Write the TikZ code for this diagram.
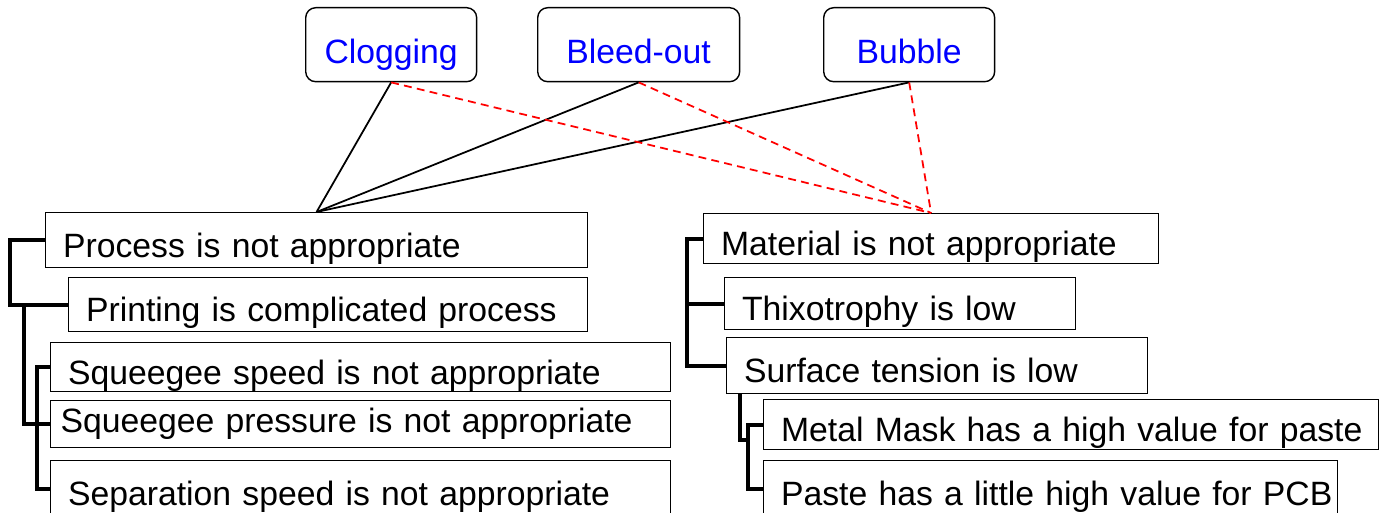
\documentclass[tikz,border=0pt]{standalone}
\usepackage{fontspec}
\setmainfont{Liberation Sans}
\usepackage{tikz}
\usetikzlibrary{calc}

\begin{document}
\begin{tikzpicture}[x=0.02cm,y=-0.02cm,
   every node/.style={font=\fontsize{19.2}{23}\selectfont},
   defect/.style={draw,rounded corners=0.2cm,line width=0.8pt,anchor=north west,
     text=blue,minimum height=1.48cm,text height=0.76cm,text depth=0pt},
   cause/.style={draw,line width=0.7pt,anchor=north west,align=left,
     inner xsep=0.35cm,text height=0.68cm,text depth=0pt,
     execute at begin node=\hbox\bgroup,execute at end node=\egroup},
   link/.style={line width=1pt},
   cross/.style={red,line width=1pt,dash pattern=on 4.5pt off 3pt},
   bracket/.style={line width=2.2pt}]
   \useasboundingbox (0,0) rectangle (1386,513);

   % defect types
   \node[defect,minimum width=3.42cm] (clog) at (305,7) {Clogging};
   \node[defect,minimum width=4.04cm] (bleed) at (537,7) {Bleed-out};
   \node[defect,minimum width=3.42cm] (bubble) at (823,7) {Bubble};

   % process side
   \node[cause,text width=10.14cm,minimum height=1.1cm] (process) at (45,212)
    {Process is not appropriate};
   \node[cause,text width=9.68cm,minimum height=1.08cm] (printing) at (68,277)
    {Printing is complicated process};
   \node[cause,text width=11.7cm,minimum height=0.98cm] (speed) at (50,342)
    {Squeegee speed is not appropriate};
   \node[cause,text width=12.0cm,inner xsep=0.2cm,text height=0.34cm,
     minimum height=0.94cm] (pressure) at (50,400)
    {Squeegee pressure is not appropriate};
   \node[cause,text width=11.7cm,minimum height=1.12cm] (separation) at (50,460)
    {Separation speed is not appropriate};

   % material side
   \node[cause,text width=8.4cm,minimum height=1.0cm] (material) at (703,213)
    {Material is not appropriate};
   \node[cause,text width=6.32cm,minimum height=1.04cm] (thixo) at (724,277)
    {Thixotrophy is low};
   \node[cause,text width=7.72cm,minimum height=1.12cm] (surface) at (726,337)
    {Surface tension is low};
   \node[cause,text width=11.6cm,minimum height=1.0cm] (metal) at (763,399)
    {Metal Mask has a high value for paste};
   \node[cause,text width=10.78cm,minimum height=1.12cm] (paste) at (763,460)
    {Paste has a little high value for PCB};

   \draw[link] (clog.south) -- (process.north);
   \draw[link] (bleed.south) -- (process.north);
   \draw[link] (bubble.south) -- (process.north);
   \draw[cross] (clog.south) -- (material.north);
   \draw[cross] (bleed.south) -- (material.north);
   \draw[cross] (bubble.south) -- (material.north);

   \draw[bracket] (process.west) -- ++(-35,0) |- (printing.west);
   \draw[bracket] (24,0 |- printing.west) |- (pressure.west);
   \draw[bracket] (speed.west) -- ++(-13,0) |- (separation.west);

   \draw[bracket] (material.west) -- ++(-16,0) |- (surface.west);
   \draw[bracket] (687,0 |- thixo.west) -- (thixo.west);
   \draw[bracket] (740,0 |- surface.south) -- (740,440) -- (748,440);
   \draw[bracket] (metal.west) -- ++(-15,0) |- (paste.west);
\end{tikzpicture}
\end{document}
